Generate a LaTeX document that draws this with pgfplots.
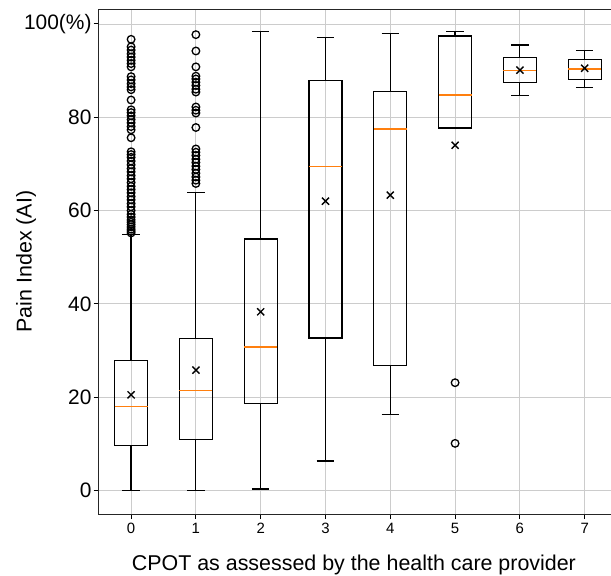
\documentclass[border=0pt]{standalone}
\usepackage{pgfplots}
\pgfplotsset{compat=1.18}
\usepgfplotslibrary{statistics}
\usepackage{fontspec}
\setmainfont{Liberation Sans}
\definecolor{mplorange}{HTML}{FF7F0E}
\begin{document}
\begin{tikzpicture}
\begin{axis}[
  scale only axis,
  width=518.4bp, height=505bp,
  xmin=-0.5, xmax=7.5,
  ymin=-5.04, ymax=103.2,
  xtick={0,1,2,3,4,5,6,7},
  xticklabels={0,1,2,3,4,5,6,7},
  ytick={0,20,40,60,80,100},
  yticklabels={0,20,40,60,80,100(\%)},
  tick align=outside,
  xtick pos=bottom, ytick pos=left,
  major tick length=5bp,
  tick style={black, line width=0.9bp},
  axis line style={line width=0.9bp, black!85},
  grid=major,
  grid style={line width=0.8bp, draw=gray!40},
  xticklabel style={font=\fontsize{15}{18}\selectfont, inner sep=2bp, yshift=-2bp},
  yticklabel style={font=\fontsize{21}{25}\selectfont, inner sep=2bp},
  every axis x label/.style={at={(rel axis cs:0.5,0)}, xshift=-4bp, yshift=-56bp, anchor=base},
  every axis y label/.style={at={(rel axis cs:0,0.5)}, xshift=-67bp, rotate=90, anchor=base},
  label style={font=\fontsize{21.5}{26}\selectfont},
  xlabel={CPOT as assessed by the health care provider},
  ylabel={Pain Index (AI)},
  boxplot/draw direction=y,
  boxplot/every median/.style={draw=mplorange, line width=1.6bp},
  boxplot/every box/.style={draw=black, line width=1.2bp},
  boxplot/every whisker/.style={draw=black, line width=1.2bp},
]
\coordinate (O) at (rel axis cs:0,0);
% CPOT 0
\addplot[black, line width=1.2bp, mark=o, mark size=3.8bp, mark options={solid, line width=1.3bp},
  boxplot prepared={lower whisker=0, lower quartile=9.6, median=18.0, upper quartile=27.8, upper whisker=54.9,
  draw position=0, box extend=0.51, whisker extend=0.27}]
  table[row sep=\\, y index=0] {data\\ 55.2\\ 55.6\\ 56.0\\ 56.5\\ 57.0\\ 57.5\\ 58.0\\ 58.6\\ 59.2\\ 60.0\\ 60.8\\ 61.5\\ 62.3\\ 63.0\\ 63.8\\ 64.5\\ 65.2\\ 66.0\\ 66.8\\ 67.5\\ 68.3\\ 69.0\\ 69.8\\ 70.6\\ 71.4\\ 72.0\\ 72.6\\ 75.6\\ 77.3\\ 78.0\\ 78.8\\ 79.5\\ 80.3\\ 81.0\\ 81.6\\ 83.7\\ 85.9\\ 86.5\\ 87.2\\ 88.0\\ 88.7\\ 90.8\\ 91.5\\ 92.2\\ 92.9\\ 93.6\\ 94.4\\ 95.1\\ 96.7\\};
% CPOT 1
\addplot[black, line width=1.2bp, mark=o, mark size=3.8bp, mark options={solid, line width=1.3bp},
  boxplot prepared={lower whisker=0, lower quartile=10.9, median=21.4, upper quartile=32.5, upper whisker=63.9,
  draw position=1, box extend=0.51, whisker extend=0.27}]
  table[row sep=\\, y index=0] {data\\ 65.8\\ 66.5\\ 67.2\\ 68.0\\ 68.8\\ 69.5\\ 70.3\\ 71.0\\ 71.8\\ 72.5\\ 73.2\\ 77.8\\ 80.9\\ 81.5\\ 82.2\\ 85.4\\ 86.0\\ 86.8\\ 87.5\\ 88.2\\ 88.8\\ 90.8\\ 94.2\\ 97.7\\};
% CPOT 2
\addplot[black, line width=1.2bp, mark=o, mark size=3.8bp, mark options={solid, line width=1.3bp},
  boxplot prepared={lower whisker=0.3, lower quartile=18.7, median=30.7, upper quartile=53.9, upper whisker=98.4,
  draw position=2, box extend=0.51, whisker extend=0.27}]
  coordinates {};
% CPOT 3
\addplot[black, line width=1.2bp, mark=o, mark size=3.8bp, mark options={solid, line width=1.3bp},
  boxplot prepared={lower whisker=6.3, lower quartile=32.7, median=69.4, upper quartile=87.8, upper whisker=97.1,
  draw position=3, box extend=0.51, whisker extend=0.27}]
  coordinates {};
% CPOT 4
\addplot[black, line width=1.2bp, mark=o, mark size=3.8bp, mark options={solid, line width=1.3bp},
  boxplot prepared={lower whisker=16.3, lower quartile=26.8, median=77.5, upper quartile=85.5, upper whisker=98.0,
  draw position=4, box extend=0.51, whisker extend=0.27}]
  coordinates {};
% CPOT 5
\addplot[black, line width=1.2bp, mark=o, mark size=3.8bp, mark options={solid, line width=1.3bp},
  boxplot prepared={lower whisker=77.7, lower quartile=77.7, median=84.8, upper quartile=97.4, upper whisker=98.4,
  draw position=5, box extend=0.51, whisker extend=0.27}]
  table[row sep=\\, y index=0] {data\\ 23.1\\ 10.1\\};
% CPOT 6
\addplot[black, line width=1.2bp, mark=o, mark size=3.8bp, mark options={solid, line width=1.3bp},
  boxplot prepared={lower whisker=84.6, lower quartile=87.4, median=90.0, upper quartile=92.8, upper whisker=95.5,
  draw position=6, box extend=0.51, whisker extend=0.27}]
  coordinates {};
% CPOT 7
\addplot[black, line width=1.2bp, mark=o, mark size=3.8bp, mark options={solid, line width=1.3bp},
  boxplot prepared={lower whisker=86.3, lower quartile=88.1, median=90.4, upper quartile=92.4, upper whisker=94.3,
  draw position=7, box extend=0.51, whisker extend=0.27}]
  coordinates {};
% means
\addplot[only marks, black, mark=x, mark size=5bp, mark options={line width=1.4bp}]
  coordinates {(0,20.5) (1,25.8) (2,38.3) (3,62.0) (4,63.3) (5,74.0) (6,90.1) (7,90.5)};
\end{axis}
\pgfresetboundingbox
\path[use as bounding box] (O) ++(-98.7bp,-62bp) rectangle ++(611bp,576bp);
\end{tikzpicture}
\end{document}
